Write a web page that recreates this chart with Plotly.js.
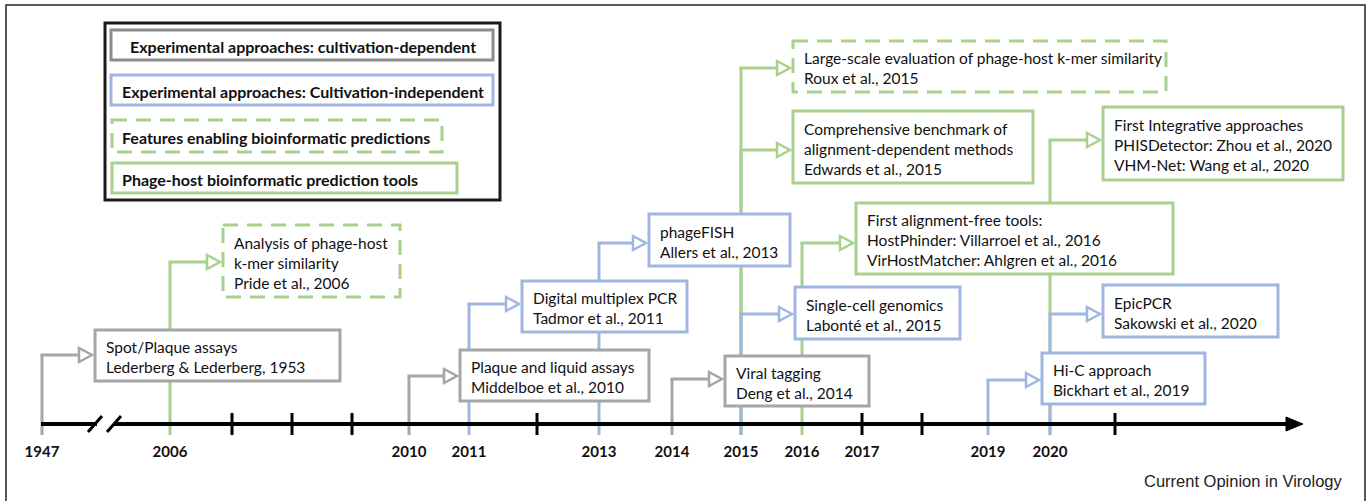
<!DOCTYPE html>
<html>
<head>
<meta charset="utf-8">
<script src="https://cdn.plot.ly/plotly-3.0.1.min.js"></script>
<style>
  html, body { margin: 0; padding: 0; background: #ffffff; }
  #chart { width: 1372px; height: 501px; }
</style>
</head>
<body>
<div id="chart"></div>
<script>
// ---------------- DATA ----------------
const legendLabels = [
  'Experimental approaches: cultivation-dependent',
  'Experimental approaches: Cultivation-independent',
  'Features enabling bioinformatic predictions',
  'Phage-host bioinformatic prediction tools'
];
const legendCats = ['dep', 'indep', 'feat', 'tool'];

const timelineYears = [1947, 2006, 2007, 2008, 2009, 2010, 2011, 2012, 2013, 2014, 2015, 2016, 2017, 2018, 2019, 2020, 2021];
const labelledYears = ['1947', '2006', '2010', '2011', '2013', '2014', '2015', '2016', '2017', '2019', '2020'];

const eventYears = [1947, 2006, 2010, 2011, 2013, 2014, 2015, 2015, 2015, 2016, 2019, 2020, 2020];
const eventCats  = ['dep', 'feat', 'dep', 'indep', 'indep', 'dep', 'feat', 'tool', 'indep', 'tool', 'indep', 'tool', 'indep'];
const eventTexts = [
  'Spot/Plaque assays<br>Lederberg &amp; Lederberg, 1953',
  'Analysis of phage-host<br>k-mer similarity<br>Pride et al., 2006',
  'Plaque and liquid assays<br>Middelboe et al., 2010',
  'Digital multiplex PCR<br>Tadmor et al., 2011',
  'phageFISH<br>Allers et al., 2013',
  'Viral tagging<br>Deng et al., 2014',
  'Large-scale evaluation of phage-host k-mer similarity<br>Roux et al., 2015',
  'Comprehensive benchmark of<br>alignment-dependent methods<br>Edwards et al., 2015',
  'Single-cell genomics<br>Labonté et al., 2015',
  'First alignment-free tools:<br>HostPhinder: Villarroel et al., 2016<br>VirHostMatcher: Ahlgren et al., 2016',
  'Hi-C approach<br>Bickhart et al., 2019',
  'First Integrative approaches<br>PHISDetector: Zhou et al., 2020<br>VHM-Net: Wang et al., 2020',
  'EpicPCR<br>Sakowski et al., 2020'
];
const sourceNote = 'Current Opinion in Virology';

// ---------------- LAYOUT / STYLE (diagram geometry in page units) ----------------
const COLORS = { dep: '#a6a6a6', indep: '#9fb6e1', feat: '#a9d18e', tool: '#a9d18e' };
const DASHED = { dep: false, indep: false, feat: true, tool: false };
const BOX_FONT = 'Lato, "Open Sans", sans-serif';

// x position of each year on the (irregular) timeline
const yearX = {1947: 42, 2006: 170, 2007: 232, 2008: 292, 2009: 352, 2010: 409, 2011: 469, 2012: 537,
  2013: 599, 2014: 672, 2015: 741, 2016: 802, 2017: 862, 2018: 922, 2019: 988, 2020: 1050, 2021: 1115};
const AXIS_Y = 424, STEM_BOTTOM = 435, YEAR_LABEL_Y = 453;

// box [x0, y0, x1, y1] and connector height for each event (same order as events)
const boxGeom = [
  [95, 330, 340, 381, 355],
  [223, 225, 400, 297, 262],
  [460, 350, 649, 401, 376],
  [522, 281, 687, 332, 304],
  [649, 214, 790, 266, 243],
  [725, 356, 869, 406, 379],
  [793, 41, 1166, 92, 68],
  [793, 111, 1033, 183, 150],
  [795, 287, 960, 339, 314],
  [856, 203, 1173, 274, 243],
  [1042, 353, 1205, 404, 380],
  [1103, 107, 1343, 180, 140],
  [1103, 285, 1278, 337, 314]
];
const legendFrame = [105, 23, 500, 200];
const legendGeom = [
  [111, 30, 493, 60, 128],
  [111, 75, 493, 105, 120],
  [112, 120, 442, 152, 120],
  [112, 163, 457, 193, 120]
];

const shapes = [];
const annotations = [];
const LW = 3;

// outer frame (left, top, right)
shapes.push({type: 'path', xref: 'x', yref: 'y', path: 'M6,510 L6,5 L1365,5 L1365,510',
  line: {color: '#222222', width: 1.5}});

// ---- event stems (drawn longest first so shorter coloured segments sit on top)
const order = eventYears.map((y, i) => i).sort((a, b) => boxGeom[a][4] - boxGeom[b][4]);
order.forEach(i => {
  const x = yearX[eventYears[i]];
  const c = COLORS[eventCats[i]];
  shapes.push({type: 'line', xref: 'x', yref: 'y', x0: x, x1: x, y0: STEM_BOTTOM, y1: boxGeom[i][4],
    line: {color: c, width: LW}});
});
// horizontal connectors
eventYears.forEach((yr, i) => {
  const x = yearX[yr];
  const g = boxGeom[i];
  const c = COLORS[eventCats[i]];
  shapes.push({type: 'line', xref: 'x', yref: 'y', x0: x - 1.5, x1: g[0] - 15, y0: g[4], y1: g[4],
    line: {color: c, width: LW}});
});

// ---- timeline axis
shapes.push({type: 'line', xref: 'x', yref: 'y', x0: yearX[1947] - 1, x1: 97, y0: AXIS_Y, y1: AXIS_Y, line: {color: '#000', width: 4}});
shapes.push({type: 'line', xref: 'x', yref: 'y', x0: 114, x1: 1292, y0: AXIS_Y, y1: AXIS_Y, line: {color: '#000', width: 4}});
shapes.push({type: 'line', xref: 'x', yref: 'y', x0: 88, x1: 102, y0: 432, y1: 416, line: {color: '#000', width: 3}});
shapes.push({type: 'line', xref: 'x', yref: 'y', x0: 107, x1: 121, y0: 432, y1: 416, line: {color: '#000', width: 3}});
shapes.push({type: 'path', xref: 'x', yref: 'y', path: 'M1286,417 L1303,424 L1286,431 Z',
  fillcolor: '#000', line: {color: '#000', width: 1}});
// black ticks for years without events
timelineYears.filter(y => !eventYears.includes(y) && y !== 1947).forEach(y => {
  shapes.push({type: 'line', xref: 'x', yref: 'y', x0: yearX[y], x1: yearX[y], y0: 413, y1: 435,
    line: {color: '#000', width: 3}});
});

// ---- event boxes
eventYears.forEach((yr, i) => {
  const g = boxGeom[i];
  const c = COLORS[eventCats[i]];
  shapes.push({type: 'rect', xref: 'x', yref: 'y', x0: g[0], y0: g[1], x1: g[2], y1: g[3],
    fillcolor: '#ffffff', line: {color: c, width: LW, dash: DASHED[eventCats[i]] ? '15px,9px' : 'solid'}});
  // hollow arrow head
  const tip = g[0] - 3, y = g[4];
  shapes.push({type: 'path', xref: 'x', yref: 'y',
    path: `M${tip - 13},${y - 7} L${tip},${y} L${tip - 13},${y + 7} Z`,
    fillcolor: '#ffffff', line: {color: c, width: 2.5}});
  annotations.push({xref: 'x', yref: 'y', x: g[0] + 9, y: (g[1] + g[3]) / 2 + 1.5,
    xanchor: 'left', yanchor: 'middle', align: 'left', showarrow: false, text: eventTexts[i],
    font: {family: BOX_FONT, size: 15.5, color: '#111111'}});
});

// ---- legend
shapes.push({type: 'rect', xref: 'x', yref: 'y', x0: legendFrame[0], y0: legendFrame[1], x1: legendFrame[2], y1: legendFrame[3],
  fillcolor: '#ffffff', line: {color: '#1a1a1a', width: 3}, layer: 'below'});
legendLabels.forEach((lab, i) => {
  const g = legendGeom[i];
  const cat = legendCats[i];
  shapes.push({type: 'rect', xref: 'x', yref: 'y', x0: g[0], y0: g[1], x1: g[2], y1: g[3],
    fillcolor: 'rgba(0,0,0,0)', line: {color: cat === 'dep' ? '#8c8c8c' : COLORS[cat], width: LW, dash: DASHED[cat] ? '15px,9px' : 'solid'}});
  annotations.push({xref: 'x', yref: 'y', x: g[4], y: (g[1] + g[3]) / 2 + 1, xanchor: 'left', yanchor: 'middle',
    showarrow: false, text: '<b>' + lab + '</b>', font: {family: BOX_FONT, size: 16, color: '#111111'}});
});

// ---- year labels via a text trace on the axes
const yearTrace = {
  type: 'scatter', mode: 'text', hoverinfo: 'skip', showlegend: false,
  x: labelledYears.map(y => yearX[+y]),
  y: labelledYears.map(y => YEAR_LABEL_Y),
  text: labelledYears.map(y => '<b>' + y + '</b>'),
  textfont: {family: BOX_FONT, size: 15, color: '#111111'},
  textposition: 'middle center'
};

annotations.push({xref: 'x', yref: 'y', x: 1345, y: 481, xanchor: 'right', yanchor: 'middle', showarrow: false,
  text: sourceNote, font: {family: '"Liberation Sans", Arial, sans-serif', size: 16.5, color: '#222222'}});

const layout = {
  width: 1372, height: 501,
  margin: {l: 0, r: 0, t: 0, b: 0, pad: 0},
  paper_bgcolor: '#ffffff', plot_bgcolor: '#ffffff',
  showlegend: false,
  xaxis: {range: [0, 1372], visible: false, fixedrange: true},
  yaxis: {range: [501, 0], visible: false, fixedrange: true},
  shapes: shapes,
  annotations: annotations
};

Plotly.newPlot('chart', [yearTrace], layout, {staticPlot: true, displayModeBar: false});
</script>
</body>
</html>
